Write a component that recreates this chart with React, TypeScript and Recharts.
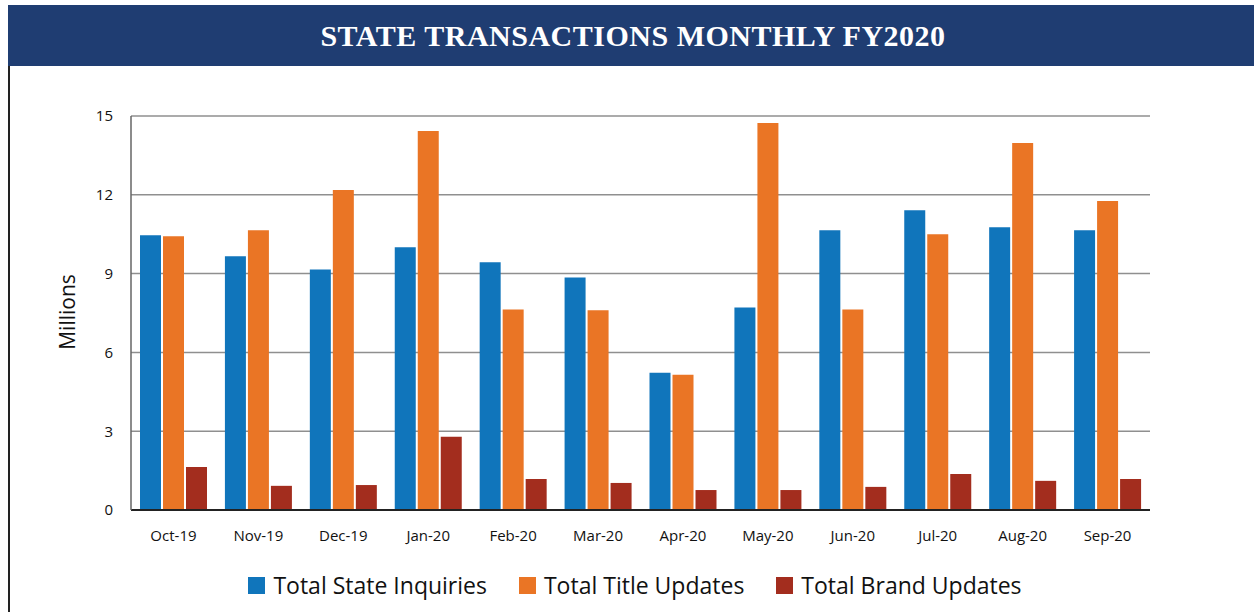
import React from "react";
import { Bar, BarChart, CartesianGrid, XAxis, YAxis } from "recharts";

const months = [
  "Oct-19",
  "Nov-19",
  "Dec-19",
  "Jan-20",
  "Feb-20",
  "Mar-20",
  "Apr-20",
  "May-20",
  "Jun-20",
  "Jul-20",
  "Aug-20",
  "Sep-20",
];

// millions
const stateInquiries = [10.46, 9.66, 9.16, 10.0, 9.43, 8.85, 5.23, 7.71, 10.65, 11.41, 10.76, 10.65];
const titleUpdates = [10.42, 10.65, 12.18, 14.43, 7.63, 7.6, 5.15, 14.73, 7.63, 10.5, 13.97, 11.76];
const brandUpdates = [1.64, 0.92, 0.95, 2.79, 1.18, 1.03, 0.76, 0.76, 0.88, 1.37, 1.11, 1.18];

const yTicks = [0, 3, 6, 9, 12, 15];

const SERIES = [
  { key: "Total State Inquiries", color: "#1075bb" },
  { key: "Total Title Updates", color: "#ea7525" },
  { key: "Total Brand Updates", color: "#a32d1e" },
];

const FONT = "'Open Sans', 'Noto Sans', sans-serif";

const data = months.map((m, i) => ({
  month: m,
  "Total State Inquiries": stateInquiries[i],
  "Total Title Updates": titleUpdates[i],
  "Total Brand Updates": brandUpdates[i],
}));

function LegendRow() {
  return (
    <div
      style={{
        position: "absolute",
        left: 0,
        top: 570,
        width: 1270,
        display: "flex",
        justifyContent: "center",
        gap: 32,
        fontFamily: FONT,
        fontSize: 23,
        lineHeight: "30px",
        color: "#111",
      }}
    >
      {SERIES.map((s) => (
        <div key={s.key} style={{ display: "flex", alignItems: "center" }}>
          <span
            style={{
              display: "inline-block",
              width: 17,
              height: 17,
              background: s.color,
              marginRight: 8,
            }}
          />
          <span>{s.key}</span>
        </div>
      ))}
    </div>
  );
}

export default function App() {
  return (
    <div
      style={{
        position: "absolute",
        left: 0,
        top: 0,
        width: 1254,
        height: 612,
        background: "#fff",
        overflow: "hidden",
      }}
    >
      <div
        style={{
          position: "absolute",
          left: 8,
          top: 5,
          width: 1250,
          height: 61,
          background: "#1f3d72",
          color: "#fff",
          display: "flex",
          alignItems: "center",
          justifyContent: "center",
          fontFamily: "'Liberation Serif', 'DejaVu Serif', serif",
          fontWeight: 700,
          fontSize: 30,
          letterSpacing: 0.5,
        }}
      >
        STATE TRANSACTIONS MONTHLY FY2020
      </div>
      <div
        style={{
          position: "absolute",
          left: 8,
          top: 66,
          width: 2,
          height: 546,
          background: "#222",
        }}
      />
      <div
        style={{
          position: "absolute",
          left: 67,
          top: 312,
          transform: "translate(-50%, -50%) rotate(-90deg)",
          fontFamily: FONT,
          fontSize: 21,
          color: "#111",
          whiteSpace: "nowrap",
        }}
      >
        Millions
      </div>
      <div style={{ position: "absolute", left: 0, top: 0 }}>
        <BarChart
          width={1254}
          height={612}
          data={data}
          margin={{ top: 116, right: 104, bottom: 72, left: 71 }}
          barSize={21}
          barGap={2}
        >
          <CartesianGrid vertical={false} stroke="#8f8f8f" strokeWidth={1.5} />
          <XAxis
            dataKey="month"
            height={30}
            axisLine={{ stroke: "#222", strokeWidth: 2 }}
            tickLine={false}
            tickSize={0}
            tickMargin={20}
            tick={{ fill: "#111", fontSize: 15, fontFamily: FONT }}
            interval={0}
          />
          <YAxis
            width={60}
            domain={[0, 15]}
            ticks={yTicks}
            axisLine={{ stroke: "#666", strokeWidth: 1.5 }}
            tickLine={false}
            tickSize={0}
            tickMargin={18}
            tick={{ fill: "#111", fontSize: 15, fontFamily: FONT }}
          />
          {SERIES.map((s) => (
            <Bar
              key={s.key}
              dataKey={s.key}
              fill={s.color}
              isAnimationActive={false}
            />
          ))}
        </BarChart>
      </div>
      <LegendRow />
    </div>
  );
}
